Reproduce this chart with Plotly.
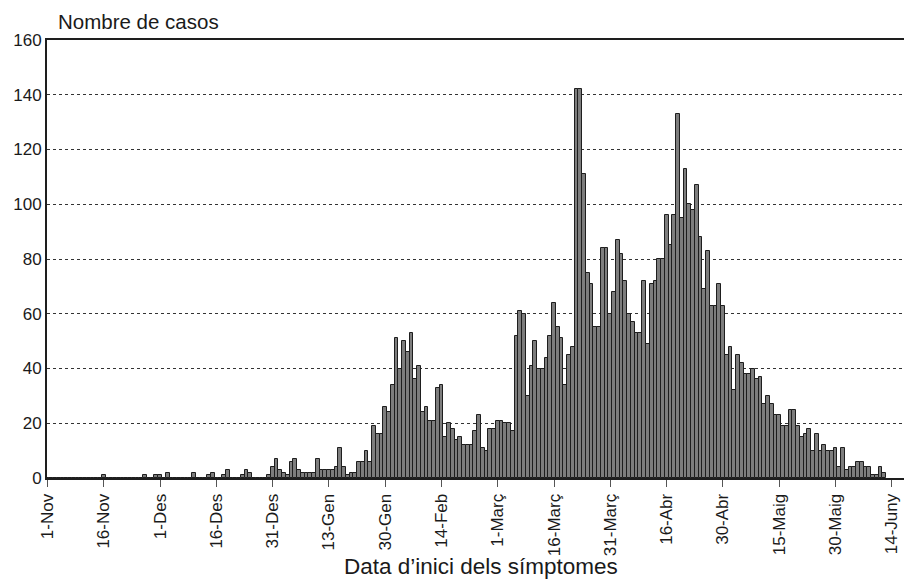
import plotly.graph_objects as go

# Daily case counts, day 0 = 1 Nov
casos = (
    [0]*15 + [1] + [0]*10 + [1, 0, 0, 1, 1, 0, 2] + [0]*6 + [2, 0, 0, 0, 1, 2, 0, 0, 1, 3, 0, 0, 0, 1, 3, 2, 0, 0, 0, 0]
    + [1, 4, 7, 3, 2, 1, 6, 7, 3, 2, 2, 2, 2, 7, 3, 3, 3, 3, 4, 11, 4, 1, 2, 2, 6, 6, 10, 6]      # d59-86
    + [19, 16, 16, 26, 24, 34, 51, 40, 50, 46, 53, 36, 41, 24, 26, 21, 21, 33, 34]                  # d87-105
    + [15, 20, 18, 14, 15, 12, 12, 12, 17, 23, 11, 10, 18, 18, 21, 21, 20, 20, 17]                  # d106-124
    + [52, 61, 60, 30, 41, 50, 40, 40, 44, 52, 64, 55, 51, 34, 45, 48, 142, 142, 111, 75, 71, 55, 55, 84, 84]  # d125-149
    + [60, 68, 87, 82, 72, 60, 57, 53, 53, 72, 49, 71, 72, 80, 80, 96, 85, 96, 133, 95, 113, 100, 98, 107, 88]  # d150-174
    + [69, 83, 63, 63, 71, 63, 45, 48, 32, 45, 42, 38, 38, 40, 36, 37, 27, 30, 27, 23, 23, 19, 19, 25, 25]      # d175-199
    + [19, 15, 16, 18, 10, 16, 10, 12, 10, 10, 11, 4, 11, 3, 4, 4, 6, 6, 4, 4, 1, 1, 4, 2]                     # d200-223
)
dies = list(range(len(casos)))

tick_days = [0, 15, 30, 45, 60, 75, 90, 105, 120, 135, 150, 165, 180, 195, 210, 225]
tick_labels = ["1-Nov", "16-Nov", "1-Des", "16-Des", "31-Des", "13-Gen", "30-Gen", "14-Feb",
               "1-Març", "16-Març", "31-Març", "16-Abr", "30-Abr", "15-Maig", "30-Maig", "14-Juny"]
y_ticks = [0, 20, 40, 60, 80, 100, 120, 140, 160]

FONT = "Liberation Sans, Arial, Helvetica, sans-serif"

fig = go.Figure(go.Bar(
    x=dies, y=casos,
    marker=dict(color="#7d7d7d", line=dict(color="#1e1e1e", width=1)),
    width=1.0,
))

# page body has an 8px margin, so the figure is 8px smaller and margins shifted
fig.update_layout(
    width=904, height=579,
    margin=dict(l=39, r=4, t=32, b=109),
    paper_bgcolor="white", plot_bgcolor="white",
    bargap=0, showlegend=False,
    font=dict(family=FONT, size=17, color="#1a1a1a"),
    xaxis=dict(
        range=[-0.15, 228.8],
        tickmode="array", tickvals=tick_days, ticktext=tick_labels,
        tickangle=-90, ticks="outside", ticklen=7, tickwidth=1, tickcolor="#555",
        showgrid=False, zeroline=False,
        showline=True, linecolor="#1e1e1e", linewidth=2, mirror=True,
        tickfont=dict(size=17),
    ),
    yaxis=dict(
        range=[0, 160],
        tickmode="array", tickvals=y_ticks,
        ticks="", showgrid=True, gridcolor="#333", gridwidth=1, griddash="dot",
        zeroline=False, showline=True, linecolor="#1e1e1e", linewidth=2, mirror=True,
        tickfont=dict(size=17),
    ),
    annotations=[
        dict(text="Nombre de casos", xref="paper", yref="paper", x=0.011, y=1.0,
             xanchor="left", yanchor="middle", yshift=19, showarrow=False,
             font=dict(size=20.5)),
        dict(text="Data d’inici dels símptomes", xref="paper", yref="paper", x=0.505, y=-0.201,
             xanchor="center", yanchor="middle", showarrow=False, font=dict(size=22.5)),
    ],
)

fig.write_html("out.html")
